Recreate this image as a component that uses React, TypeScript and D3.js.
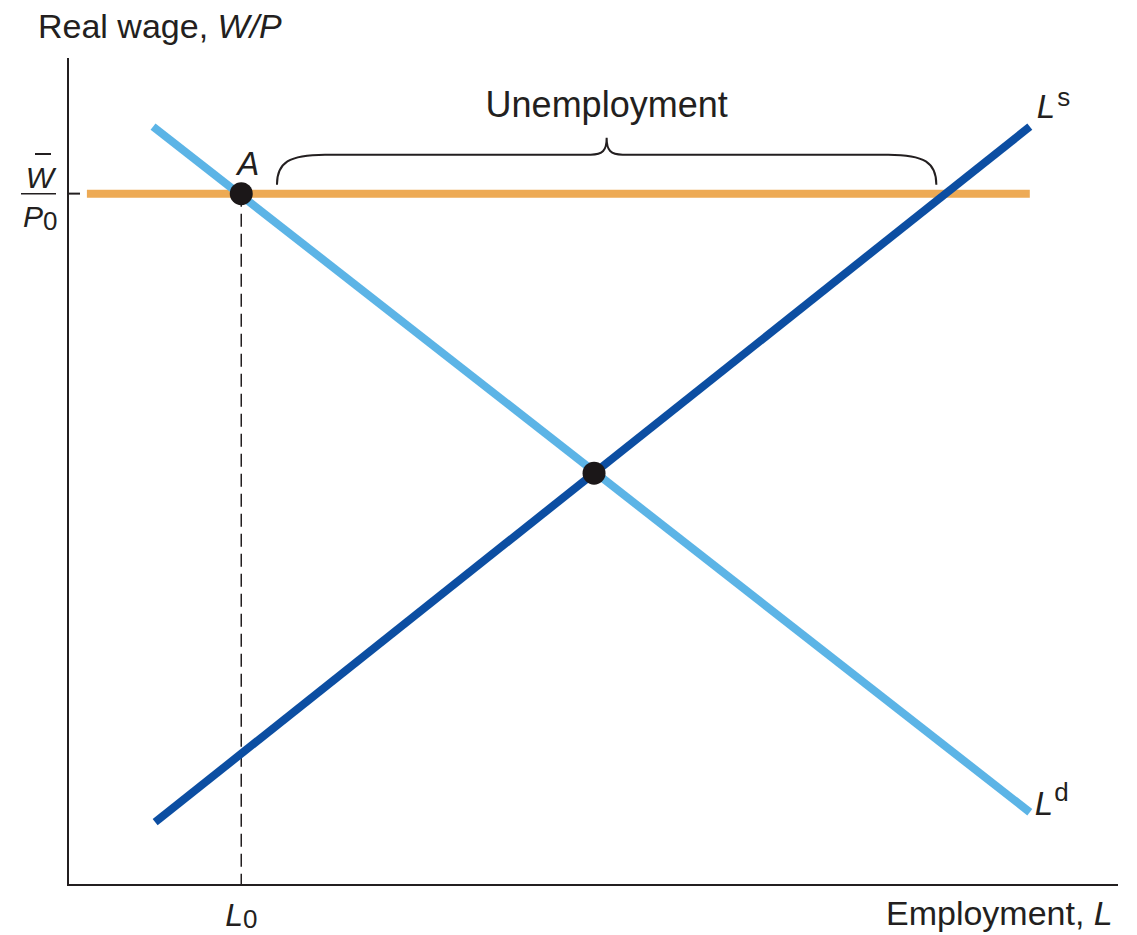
import * as d3 from 'd3';

// axes extent in model units
const xDomain = [0, 10];
const yDomain = [0, 10];

// curves (model units)
const laborDemand = [
  [0.81, 9.17],
  [9.16, 0.88],
];
const laborSupply = [
  [0.83, 0.76],
  [9.16, 9.17],
];
const fixedWage = [
  [0.18, 8.36],
  [9.16, 8.36],
];
const pointA = [1.65, 8.36];
const equilibrium = [5.01, 4.98];
const braceRange = [1.99, 8.27];

const width = 1137;
const height = 935;
const font = '"Liberation Sans", Arial, sans-serif';
const ink = '#231f20';

export default function App() {
  const x = d3.scaleLinear().domain(xDomain).range([68, 1118]);
  const y = d3.scaleLinear().domain(yDomain).range([885, 58]);
  const line = d3
    .line<number[]>()
    .x((d) => x(d[0]))
    .y((d) => y(d[1]));

  const wy = y(fixedWage[0][1]);
  const x1 = x(braceRange[0]);
  const x2 = x(braceRange[1]);
  const mid = (x1 + x2) / 2;
  const yb = wy - 9;
  const yt = wy - 39;
  const yp = wy - 56;
  const brace = `M${x1},${yb} C${x1},${yt + 8} ${x1 + 12},${yt} ${x1 + 48},${yt}
    L${mid - 16},${yt} C${mid - 4},${yt} ${mid},${yt - 4} ${mid},${yp}
    C${mid},${yt - 4} ${mid + 4},${yt} ${mid + 16},${yt}
    L${x2 - 48},${yt} C${x2 - 12},${yt} ${x2},${yt + 8} ${x2},${yb}`;

  return (
    <svg
      width={width}
      height={height}
      style={{ position: 'absolute', left: 0, top: 0, background: '#fff' }}
      fontFamily={font}
    >
      {/* axes */}
      <line x1={x(0)} x2={x(0)} y1={y(10)} y2={y(0) + 1} stroke={ink} strokeWidth={2} />
      <line x1={x(0) - 1} x2={x(10)} y1={y(0)} y2={y(0)} stroke={ink} strokeWidth={2} />
      <line x1={x(0)} x2={x(0) + 12} y1={wy} y2={wy} stroke={ink} strokeWidth={2} />

      {/* dashed drop from A */}
      <line
        x1={x(pointA[0])}
        x2={x(pointA[0])}
        y1={y(pointA[1])}
        y2={y(0)}
        stroke={ink}
        strokeWidth={1.5}
        strokeDasharray="13,7"
      />

      {/* fixed wage */}
      <path d={line(fixedWage)!} stroke="#EDAA55" strokeWidth={8} fill="none" />
      {/* demand */}
      <path d={line(laborDemand)!} stroke="#5CB4E6" strokeWidth={8} fill="none" />
      {/* supply */}
      <path d={line(laborSupply)!} stroke="#0C4EA2" strokeWidth={8} fill="none" />

      <circle cx={x(pointA[0])} cy={y(pointA[1])} r={11.5} fill="#1b1718" />
      <circle cx={x(equilibrium[0])} cy={y(equilibrium[1])} r={11.5} fill="#1b1718" />

      {/* brace */}
      <path d={brace} fill="none" stroke={ink} strokeWidth={2} />
      <text x={mid} y={yp - 21} textAnchor="middle" fontSize={36} fill={ink}>
        Unemployment
      </text>

      {/* labels */}
      <text x={38} y={38} fontSize={34} fill={ink}>
        Real wage, <tspan fontStyle="italic">W/P</tspan>
      </text>
      <text x={886} y={925} fontSize={34} fill={ink}>
        Employment, <tspan fontStyle="italic">L</tspan>
      </text>
      <text x={x(pointA[0]) - 4} y={wy - 19} fontSize={33} fontStyle="italic" fill={ink}>
        A
      </text>
      <text x={x(laborSupply[1][0]) + 7} y={y(laborSupply[1][1]) - 9} fontSize={33} fill={ink}>
        <tspan fontStyle="italic">L</tspan>
        <tspan fontSize={26} dx={2} dy={-12}>s</tspan>
      </text>
      <text x={x(laborDemand[1][0]) + 5} y={y(laborDemand[1][1]) + 3} fontSize={33} fill={ink}>
        <tspan fontStyle="italic">L</tspan>
        <tspan fontSize={26} dx={1} dy={-14}>d</tspan>
      </text>
      <text x={x(pointA[0]) - 16} y={926} fontSize={32} fill={ink}>
        <tspan fontStyle="italic">L</tspan>
        <tspan fontSize={26} dy={2}>0</tspan>
      </text>

      {/* W-bar over P0 */}
      <text x={40} y={188} fontSize={30} fontStyle="italic" textAnchor="middle" fill={ink}>
        W
      </text>
      <line x1={35} x2={51} y1={154} y2={154} stroke={ink} strokeWidth={2} />
      <line x1={21} x2={56} y1={wy} y2={wy} stroke={ink} strokeWidth={1.5} />
      <text x={23} y={227} fontSize={30} fontStyle="italic" fill={ink}>
        P
        <tspan fontSize={26} fontStyle="normal" dy={3}>0</tspan>
      </text>
    </svg>
  );
}
